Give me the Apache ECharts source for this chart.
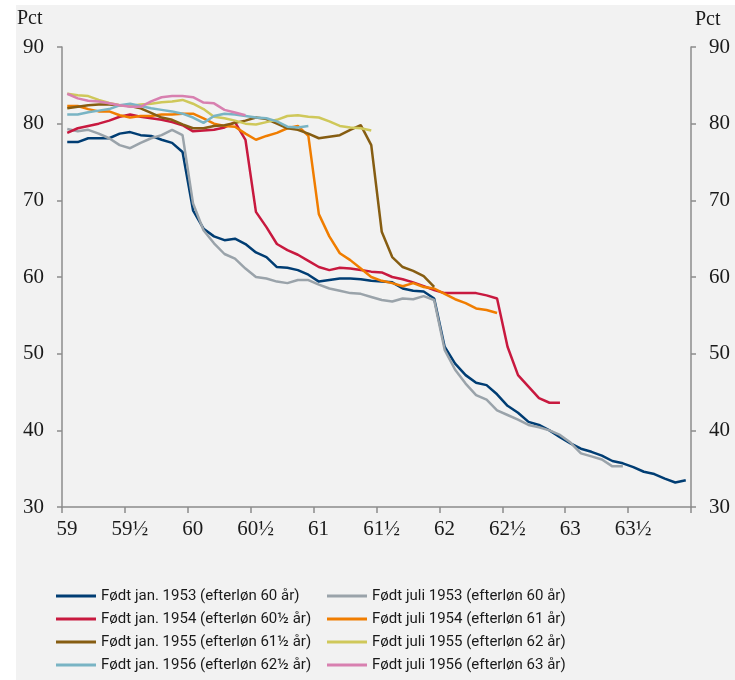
<!DOCTYPE html>
<html>
<head>
<meta charset="utf-8">
<script src="https://cdn.jsdelivr.net/npm/echarts@6/dist/echarts.min.js"></script>
<style>
html,body{margin:0;padding:0;background:#fff;}
#chart{width:735px;height:680px;}
</style>
</head>
<body>
<div id="chart"></div>
<script>
// Age axis: monthly observations from age 59, plotted at the middle of each month
const startAge = 59;
const xTickLabels = ['59', '59½', '60', '60½', '61', '61½', '62', '62½', '63', '63½', ''];

const seriesNames = [
  'Født jan. 1953 (efterløn 60 år)',
  'Født juli 1953 (efterløn 60 år)',
  'Født jan. 1954 (efterløn 60½ år)',
  'Født juli 1954 (efterløn 61 år)',
  'Født jan. 1955 (efterløn 61½ år)',
  'Født juli 1955 (efterløn 62 år)',
  'Født jan. 1956 (efterløn 62½ år)',
  'Født juli 1956 (efterløn 63 år)'
];

const jan1953 = [77.6, 77.6, 78.1, 78.1, 78.1, 78.7, 78.9, 78.5, 78.4, 77.9, 77.5, 76.3,
  68.7, 66.3, 65.3, 64.8, 65.0, 64.3, 63.2, 62.6, 61.3, 61.2, 60.9, 60.3,
  59.4, 59.6, 59.8, 59.8, 59.7, 59.5, 59.4, 59.3, 58.5, 58.2, 58.1, 57.2,
  50.9, 48.7, 47.2, 46.2, 45.9, 44.7, 43.2, 42.3, 41.1, 40.7, 40.0, 39.1,
  38.3, 37.6, 37.2, 36.7, 36.0, 35.7, 35.2, 34.6, 34.3, 33.7, 33.2, 33.5];

const juli1953 = [79.3, 79.0, 79.2, 78.7, 78.1, 77.2, 76.8, 77.5, 78.1, 78.5, 79.2, 78.5,
  69.6, 66.1, 64.4, 63.0, 62.4, 61.1, 60.0, 59.8, 59.4, 59.2, 59.6, 59.6,
  59.0, 58.5, 58.2, 57.9, 57.8, 57.4, 57.0, 56.8, 57.2, 57.1, 57.5, 57.0,
  50.5, 47.9, 46.1, 44.6, 44.0, 42.6, 42.0, 41.4, 40.7, 40.4, 40.0, 39.4,
  38.4, 37.0, 36.6, 36.2, 35.3, 35.3];

const jan1954 = [78.8, 79.4, 79.7, 80.0, 80.4, 80.9, 81.2, 80.9, 80.7, 80.5, 80.2, 79.8,
  79.0, 79.1, 79.2, 79.5, 80.2, 77.9, 68.5, 66.5, 64.3, 63.5, 62.9, 62.1,
  61.3, 60.9, 61.2, 61.1, 60.9, 60.7, 60.6, 60.0, 59.7, 59.3, 58.8, 58.3,
  57.9, 57.9, 57.9, 57.9, 57.6, 57.2, 50.9, 47.2, 45.7, 44.2, 43.6, 43.6];

const juli1954 = [82.3, 82.3, 81.9, 81.6, 81.6, 81.1, 80.8, 81.0, 81.0, 81.2, 81.2, 81.3,
  81.3, 80.7, 80.0, 79.7, 79.6, 78.7, 77.9, 78.4, 78.8, 79.4, 79.7, 78.4,
  68.2, 65.3, 63.1, 62.2, 61.1, 60.0, 59.5, 59.2, 58.8, 59.2, 58.7, 58.5,
  57.8, 57.1, 56.6, 55.9, 55.7, 55.3];

const jan1955 = [82.0, 82.2, 82.4, 82.5, 82.5, 82.4, 82.3, 82.0, 81.4, 80.8, 80.5, 79.9,
  79.4, 79.4, 79.7, 79.8, 80.1, 80.4, 80.8, 80.6, 80.0, 79.4, 79.2, 78.7,
  78.1, 78.3, 78.5, 79.2, 79.8, 77.2, 65.9, 62.6, 61.3, 60.8, 60.1, 58.7];

const juli1955 = [83.9, 83.7, 83.6, 83.1, 82.7, 82.4, 82.3, 82.5, 82.6, 82.8, 82.9, 83.1,
  82.6, 81.9, 80.9, 80.7, 80.4, 80.0, 79.9, 80.2, 80.5, 81.0, 81.1, 80.9,
  80.8, 80.3, 79.7, 79.5, 79.4, 79.1];

const jan1956 = [81.2, 81.2, 81.5, 81.7, 81.9, 82.4, 82.6, 82.3, 82.0, 81.8, 81.6, 81.3,
  80.8, 80.1, 81.0, 81.3, 81.2, 81.0, 80.8, 80.7, 80.3, 79.6, 79.5, 79.7];

const juli1956 = [83.9, 83.3, 83.0, 82.9, 82.65, 82.4, 82.2, 82.2, 82.9, 83.45, 83.6, 83.6,
  83.45, 82.75, 82.65, 81.8, 81.45, 81.1];

const seriesValues = [jan1953, juli1953, jan1954, juli1954, jan1955, juli1955, jan1956, juli1956];
const seriesColors = ['#003d73', '#9aa3aa', '#c8193f', '#f07d00', '#865d12', '#cfc85a', '#79b4c4', '#d880b0'];

const toPoints = vals => vals.map((v, i) => [startAge + (i + 0.5) / 12, v]);

const axisColor = '#8c8c8c';
const serif = "'Liberation Serif', 'DejaVu Serif', serif";
const legendFont = "'Liberation Sans Narrow', 'Roboto', sans-serif";

const yAxisBase = {
  type: 'value', min: 30, max: 90, interval: 10,
  axisLine: { show: true, onZero: false, lineStyle: { color: axisColor, width: 1.5 } },
  axisTick: { show: true, length: 5, lineStyle: { color: axisColor, width: 1.5 } },
  axisLabel: { fontSize: 21, color: '#1a1a1a', fontFamily: serif, margin: 18 },
  splitLine: { show: false }
};

const legendBase = {
  orient: 'vertical', top: 582, itemWidth: 40, itemHeight: 3, itemGap: 5, icon: 'rect',
  textStyle: { fontSize: 15, fontFamily: legendFont, color: '#1a1a1a', lineHeight: 18 }
};

const chart = echarts.init(document.getElementById('chart'), null, { renderer: 'canvas' });
chart.setOption({
  animation: false,
  backgroundColor: '#ffffff',
  graphic: [
    { type: 'rect', z: -10, shape: { x: 16, y: 5, width: 719, height: 675 }, style: { fill: '#f2f2f2' } },
    { type: 'text', left: 17, top: 9, style: { text: 'Pct', fontSize: 20, fontFamily: serif, fill: '#1a1a1a' } },
    { type: 'text', left: 695, top: 10, style: { text: 'Pct', fontSize: 20, fontFamily: serif, fill: '#1a1a1a' } }
  ],
  grid: { left: 62, right: 44, top: 47, bottom: 173, containLabel: false },
  xAxis: {
    type: 'value', min: 59, max: 64, interval: 0.5,
    axisLine: { show: true, onZero: false, lineStyle: { color: axisColor, width: 1.5 } },
    axisTick: { show: true, length: 6, lineStyle: { color: axisColor, width: 1.5 } },
    axisLabel: {
      fontSize: 21, color: '#1a1a1a', fontFamily: serif, margin: 12, padding: [0, 0, 0, 10],
      formatter: v => xTickLabels[Math.round((v - startAge) * 2)] || ''
    },
    splitLine: { show: false }
  },
  yAxis: [
    Object.assign({}, yAxisBase, { position: 'left' }),
    Object.assign({}, yAxisBase, { position: 'right' })
  ],
  legend: [
    Object.assign({}, legendBase, { left: 51, data: [seriesNames[0], seriesNames[2], seriesNames[4], seriesNames[6]] }),
    Object.assign({}, legendBase, { left: 322, data: [seriesNames[1], seriesNames[3], seriesNames[5], seriesNames[7]] })
  ],
  series: seriesValues.map((vals, k) => ({
    name: seriesNames[k],
    type: 'line',
    yAxisIndex: 0,
    data: toPoints(vals),
    showSymbol: false,
    symbol: 'none',
    color: seriesColors[k],
    lineStyle: { width: 2.5, color: seriesColors[k] },
    emphasis: { disabled: true }
  }))
});
</script>
</body>
</html>
